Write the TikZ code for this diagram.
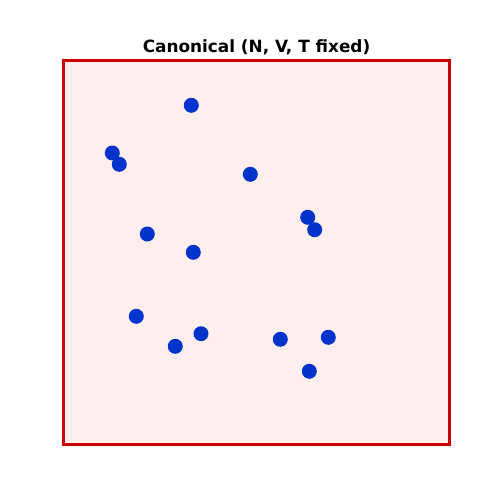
\documentclass[tikz,border=0pt]{standalone}
\usepackage{fontspec}
\setmainfont{DejaVu Sans}
\definecolor{boxred}{RGB}{204,0,0}
\definecolor{boxfill}{RGB}{255,238,238}
\definecolor{particleblue}{RGB}{0,51,204}
\usetikzlibrary{positioning}

\begin{document}
\begin{tikzpicture}[x=0.02cm, y=-0.02cm,
          every node/.style={align=center},
          particle/.style={circle, fill=particleblue, inner sep=0pt,
                           minimum size=0.3cm}]
  \useasboundingbox (0,0) rectangle (500,500);
  % Simulation box
  \node[draw=boxred, fill=boxfill, line width=1.7pt, inner sep=0pt,
        minimum width=7.74cm, minimum height=7.7cm] (box) at (256.5,252.5) {};
  \node[font=\fontsize{9.6}{11}\selectfont\bfseries,
        above=-0.06cm of box.north] (title) {Canonical (N, V, T fixed)};
  % Particles
  \foreach \i/\x/\y in {
    1/191.3/105.3, 2/112.3/153, 3/119.3/164.3, 4/250.3/174.3,
    5/307.7/217.3, 6/314.7/229.7, 7/147.3/234, 8/193.3/252.3,
    9/136.3/316.3, 10/175.3/346.3, 11/201/333.7, 12/280.3/339.3,
    13/328.3/337.3, 14/309.3/371.3
  }{
    \node[particle] (p\i) at (\x,\y) {};
  }
\end{tikzpicture}
\end{document}
